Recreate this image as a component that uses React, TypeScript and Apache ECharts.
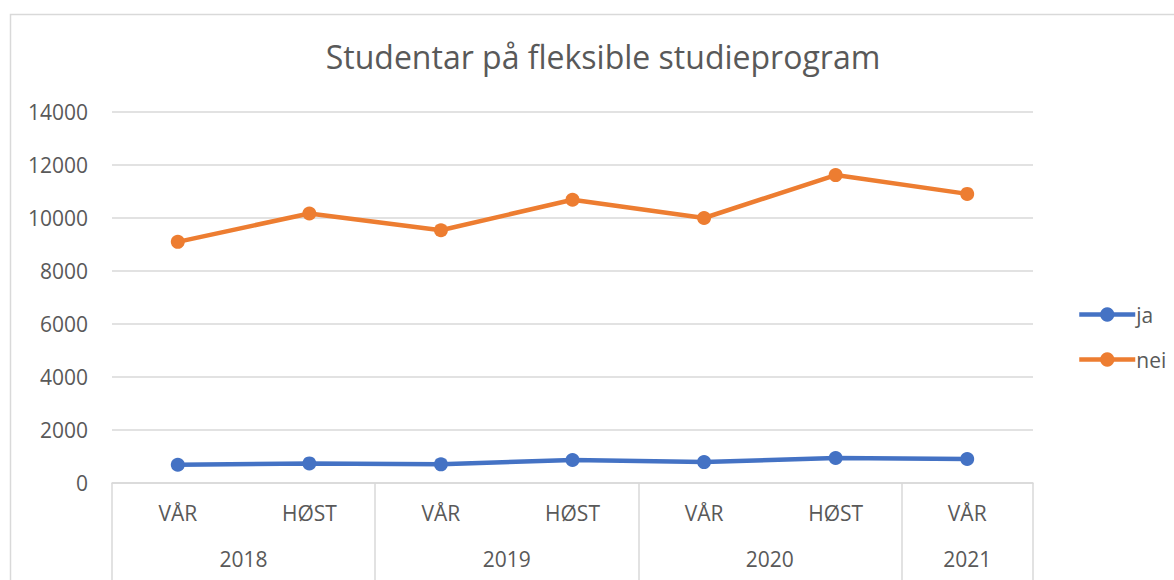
import React, { useEffect, useRef } from "react";
import * as echarts from "echarts";

const categories = ["VÅR", "HØST", "VÅR", "HØST", "VÅR", "HØST", "VÅR"];
const years = ["2018", "2019", "2020", "2021"];
const yearCenters = [1, 3, 5, 6.5];
const yearBounds = [0, 2, 4, 6, 7];
const jaValues = [690, 740, 705, 870, 790, 945, 905];
const neiValues = [9100, 10170, 9540, 10690, 10000, 11620, 10910];

const FONT = "Open Sans";
const TXT = "#595959";

export default function App() {
  const ref = useRef<HTMLDivElement>(null);
  useEffect(() => {
    const chart = echarts.init(ref.current!, null, { renderer: "svg" });
    chart.setOption({
      animation: false,
      backgroundColor: "#ffffff",
      textStyle: { fontFamily: FONT },
      title: {
        text: "Studentar på fleksible studieprogram",
        left: 598,
        top: 35,
        textAlign: "center",
        textStyle: { fontFamily: FONT, fontSize: 32, fontWeight: "normal", color: TXT },
      },
      graphic: [
        {
          type: "rect",
          shape: { x: 10.5, y: 14.5, width: 1200, height: 700 },
          style: { fill: "none", stroke: "#d9d9d9", lineWidth: 1.5 },
          silent: true,
        },
      ],
      legend: {
        orient: "vertical",
        left: 1072,
        top: 299,
        itemGap: 24,
        itemWidth: 56,
        itemHeight: 18,
        lineStyle: { width: 4.5 },
        textStyle: { fontFamily: FONT, fontSize: 21, color: TXT, padding: [0, 0, 0, -4] },
        data: ["ja", "nei"],
      },
      grid: { left: 112, right: 141, top: 112, bottom: 97 },
      xAxis: [
        {
          type: "category",
          data: categories,
          boundaryGap: true,
          axisLine: { show: true, lineStyle: { color: "#d9d9d9", width: 1.5 } },
          axisTick: { show: false },
          axisLabel: { fontFamily: FONT, fontSize: 21, color: TXT, margin: 19 },
        },
        {
          type: "value",
          min: 0,
          max: 7,
          position: "bottom",
          axisLine: { show: false },
          splitLine: { show: false },
          axisTick: {
            show: true,
            customValues: yearBounds,
            length: 110,
            lineStyle: { color: "#d9d9d9", width: 1.5 },
          },
          axisLabel: {
            customValues: yearCenters,
            fontFamily: FONT,
            fontSize: 21,
            color: TXT,
            margin: 65,
            formatter: (v: number) => {
              const i = yearCenters.indexOf(v);
              return i >= 0 ? years[i] : "";
            },
          },
        },
      ],
      yAxis: {
        type: "value",
        min: 0,
        max: 14000,
        interval: 2000,
        axisLine: { show: false },
        axisTick: { show: false },
        axisLabel: {
          fontFamily: FONT,
          fontSize: 21,
          color: TXT,
          margin: 24,
          formatter: (v: number) => String(v),
        },
        splitLine: { lineStyle: { color: "#d9d9d9", width: 1.5 } },
      },
      series: [
        {
          name: "ja",
          type: "line",
          data: jaValues,
          xAxisIndex: 0,
          symbol: "circle",
          symbolSize: 14,
          lineStyle: { width: 4.5, color: "#4472C4" },
          itemStyle: { color: "#4472C4" },
        },
        {
          name: "nei",
          type: "line",
          data: neiValues,
          xAxisIndex: 0,
          symbol: "circle",
          symbolSize: 14,
          lineStyle: { width: 4.5, color: "#ED7D31" },
          itemStyle: { color: "#ED7D31" },
        },
      ],
    });
    return () => chart.dispose();
  }, []);
  return (
    <div
      ref={ref}
      style={{ position: "fixed", left: 0, top: 0, width: 1174, height: 580 }}
    />
  );
}
